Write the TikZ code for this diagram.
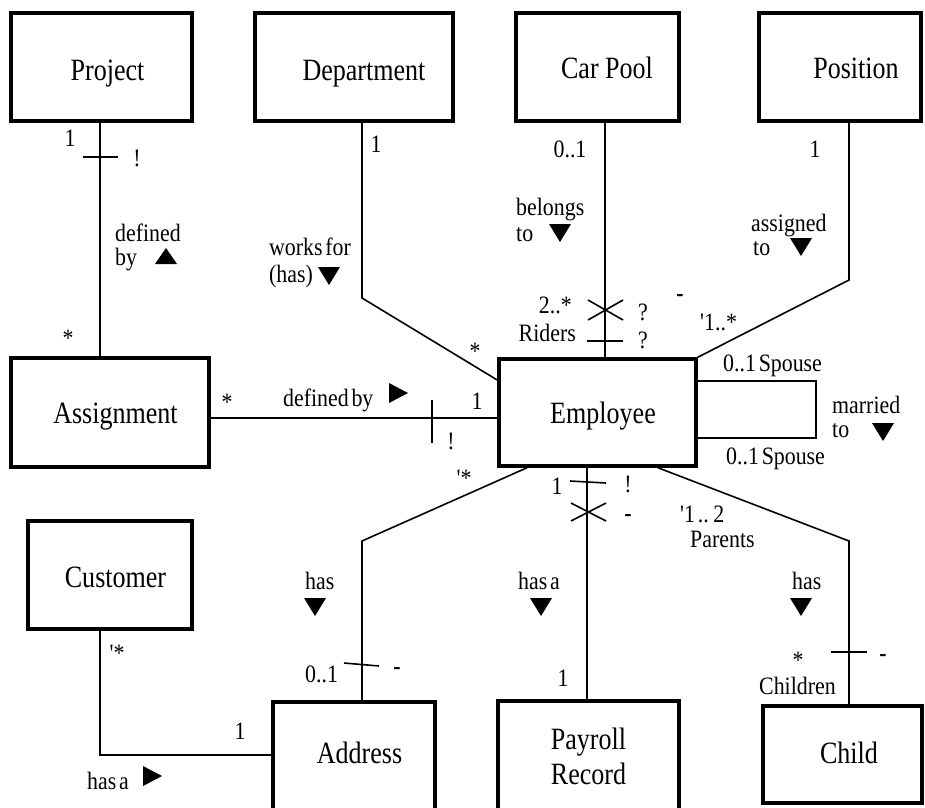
\documentclass[tikz,border=0pt]{standalone}
\usepackage{fontspec}
\setmainfont{Liberation Serif}
\newfontfamily\boxfont[FakeStretch=0.84]{Liberation Serif}
\newfontfamily\lblfont[FakeStretch=0.875,WordSpace=0.5]{Liberation Serif}
\newcommand{\tridown}[2]{\fill (#1,#2) ++(-11,-9) -- ++(22,0) -- ++(-11,18) -- cycle;}
\newcommand{\triup}[2]{\fill (#1,#2) ++(-11,8) -- ++(22,0) -- ++(-11,-16) -- cycle;}
\newcommand{\triright}[2]{\fill (#1,#2) ++(-9,-10) -- ++(0,20) -- ++(19,-10) -- cycle;}
\newcommand{\pushr}[1]{\hspace*{#1pt}}
\begin{document}
\begin{tikzpicture}[x=1pt,y=-1pt,
  ent/.style={draw,line width=3.5pt,inner sep=0pt,align=center,
    text height=28pt,text depth=6pt,
    font=\boxfont\fontsize{31}{35}\selectfont},
  lbl/.style={inner sep=0pt,anchor=base,font=\lblfont\fontsize{25}{25}\selectfont},
  lblw/.style={lbl,anchor=base west},
  lble/.style={lbl,anchor=base east},
  conn/.style={line width=1.6pt},
  tick/.style={line width=1.6pt}]
\useasboundingbox (0,0) rectangle (925,807);
% entities
\node[ent,minimum width=181pt,minimum height=108pt,text height=30pt,text depth=4pt] (proj) at (101.5,67) {\pushr{12}Project};
\node[ent,minimum width=198pt,minimum height=108pt,text height=30pt,text depth=4pt] (dept) at (354,67) {\pushr{20}Department};
\node[ent,minimum width=163pt,minimum height=108pt] (carpool) at (597.5,67) {\pushr{19}Car Pool};
\node[ent,minimum width=162pt,minimum height=108pt] (pos) at (840,67) {\pushr{32}Position};
\node[ent,minimum width=198pt,minimum height=109pt] (assign) at (110,412.5) {\pushr{11}Assignment};
\node[ent,minimum width=197pt,minimum height=107pt] (emp) at (597.5,412.5) {\pushr{11}Employee};
\node[ent,minimum width=164pt,minimum height=108pt,text height=29pt,text depth=5pt] (cust) at (110,575) {\pushr{11}Customer};
\node[ent,minimum width=162pt,minimum height=110pt,text height=24pt,text depth=12pt] (addr) at (354,757) {\pushr{11}Address};
\node[ent,minimum width=181pt,minimum height=111pt,text height=,text depth=] (pay) at (588.5,756.5) {Payroll\\Record};
\node[ent,minimum width=159pt,minimum height=97pt,text height=26pt,text depth=9pt] (child) at (842.5,754.5) {\pushr{13}Child};
% connectors
\draw[conn] (100,0 |- proj.south) -- (100,0 |- assign.north);
\draw[conn] (362,0 |- dept.south) -- (362,298) -- (emp.west |- 0,380);
\draw[conn] (605,0 |- carpool.south) -- (605,0 |- emp.north);
\draw[conn] (849,0 |- pos.south) -- (849,280) -- (emp.north east);
\draw[conn] (assign.east |- 0,418) -- (emp.west |- 0,418);
\draw[conn] (emp.east |- 0,381) -- (816,381) -- (816,438) -- (emp.east |- 0,438);
\draw[conn] (527,0 |- emp.south) -- (362,541) -- (362,0 |- addr.north);
\draw[conn] (587,0 |- emp.south) -- (587,0 |- pay.north);
\draw[conn] (658,0 |- emp.south) -- (849,541) -- (849,0 |- child.north);
\draw[conn] (100,0 |- cust.south) -- (100,755) -- (addr.west |- 0,755);
% ticks and crosses
\draw[tick] (83,157) -- (118,157);
\draw[tick] (432,400) -- (432,443);
\draw[tick] (588,300) -- (623,320) (588,320) -- (623,300);
\draw[tick] (587,341) -- (623,341);
\draw[tick] (570,481) -- (606,483);
\draw[tick] (571,503) -- (606,521) (571,521) -- (606,503);
\draw[tick] (344,663) -- (379,666);
\draw[tick] (831,652) -- (867,652);
% direction triangles
\triup{166}{256}
\tridown{329}{276}
\tridown{560}{233}
\tridown{801}{247}
\tridown{883}{432}
\triright{398}{393}
\tridown{315}{607}
\tridown{541}{607}
\tridown{801}{607}
\triright{152}{776}
% labels
\node[lbl] (l1) at (70,146) {1};
\node[lbl] (l2) at (137,166) {!};
\node[lblw] (l3) at (115,241) {defined};
\node[lblw] (l4) at (115,265) {by};
\node[lbl] (l5) at (68,346) {*};
\node[lbl] (l6) at (376,152) {1};
\node[lblw] (l7) at (269,255) {works for};
\node[lblw] (l8) at (269,282) {(has)};
\node[lbl] (l9) at (475,359) {*};
\node[lbl] (l10) at (570,157) {0..1};
\node[lblw] (l11) at (516,215) {belongs};
\node[lblw] (l12) at (516,241) {to};
\node[lbl] (l13) at (815,157) {1};
\node[lblw] (l14) at (751,231) {assigned};
\node[lblw] (l15) at (753,255) {to};
\node[lble] (l16) at (572,313) {2..*};
\node[lble] (l17) at (576,341) {Riders};
\node[lbl] (l18) at (643,320) {?};
\node[lbl] (l19) at (643,348) {?};
\node[lbl] (l20) at (680,301) {\textbf{-}};
\node[lblw] (l21) at (700,330) {'1..*};
\node[lblw] (l22) at (723,371) {0..1 Spouse};
\node[lblw] (l23) at (726,464) {0..1 Spouse};
\node[lblw] (l24) at (832,413) {married};
\node[lblw] (l25) at (832,437) {to};
\node[lbl] (l26) at (227,410) {*};
\node[lblw] (l27) at (283,406) {defined by};
\node[lbl] (l28) at (477,409) {1};
\node[lbl] (l29) at (451,449) {!};
\node[lbl] (l30) at (464,486) {'*};
\node[lbl] (l31) at (557,494) {1};
\node[lbl] (l32) at (628,492) {!};
\node[lbl] (l33) at (628,521) {\textbf{-}};
\node[lblw] (l34) at (680,522) {'1 .. 2};
\node[lblw] (l35) at (690,547) {Parents};
\node[lblw] (l36) at (305,589) {has};
\node[lblw] (l37) at (305,682) {0..1};
\node[lbl] (l38) at (397,674) {\textbf{-}};
\node[lbl] (l39) at (117,661) {'*};
\node[lbl] (l40) at (240,739) {1};
\node[lblw] (l41) at (87,789) {has a};
\node[lblw] (l42) at (518,589) {has a};
\node[lbl] (l43) at (563,686) {1};
\node[lblw] (l44) at (792,589) {has};
\node[lbl] (l45) at (798,668) {*};
\node[lblw] (l46) at (759,694) {Children};
\node[lbl] (l47) at (883,661) {\textbf{-}};
\end{tikzpicture}
\end{document}
